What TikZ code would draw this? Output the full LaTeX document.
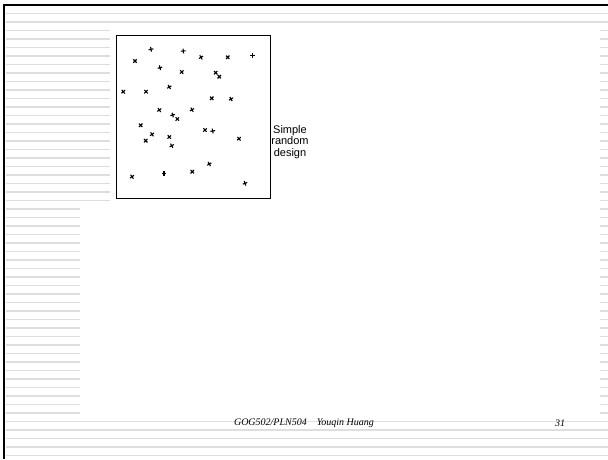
\documentclass[tikz,border=0pt]{standalone}
\usepackage{fontspec}
\setmainfont{Liberation Serif}
\newfontfamily\labelfont{Liberation Sans}
\usetikzlibrary{positioning}

\begin{document}
\begin{tikzpicture}[x=1pt, y=-1pt,
    rule/.style={line width=1.7pt, draw=black!13},
    pt/.style={line width=1.1pt},
    field/.style={draw, line width=1.3pt, inner sep=0pt, anchor=north west,
        minimum width=154pt, minimum height=162.5pt},
    caption/.style={font=\labelfont\fontsize{11}{11.5}\selectfont, align=center},
    foot/.style={font=\itshape\fontsize{10}{12}\selectfont}]
  \useasboundingbox[fill=white] (0,0) rectangle (608,459);
  % ruled background
  \foreach \k in {0,1,48,49,...,52}
    \draw[rule] (6,13.5+8.5*\k) -- (608,13.5+8.5*\k);
  \foreach \k in {2,...,22} {
    \draw[rule] (6,13.5+8.5*\k) -- (110,13.5+8.5*\k);
    \draw[rule] (600,13.5+8.5*\k) -- (608,13.5+8.5*\k);
  }
  \foreach \k in {23,...,47} {
    \draw[rule] (6,13.5+8.5*\k) -- (80,13.5+8.5*\k);
    \draw[rule] (600,13.5+8.5*\k) -- (608,13.5+8.5*\k);
  }
  % slide frame
  \draw[line width=2.6pt] (4,459) -- (4,5) -- (608,5);
  % sample area
  \node[field] (area) at (116,35) {};
  \foreach \px/\py/\a in {151/49.3/10, 183.3/51/5, 201/57.3/30, 227.7/57.3/45,
      252.3/55.7/0, 135/61/45, 160/67.7/15, 181.7/72/40, 215.7/72.7/45,
      219.3/76.7/45, 123.3/91.7/40, 146/91.7/45, 169.3/87/30, 211.7/98.3/45,
      231/99/30, 159.3/110/35, 192/109.7/30, 172.7/115/15, 177.3/119/45,
      140.7/125.3/45, 152/134.3/35, 145.7/140.7/45, 169.3/137/40,
      171.7/145.7/30, 205/130/40, 212.7/131/10, 239/138.7/40, 209.3/164/30,
      132/176.7/35, 164/173.3/0, 192.3/171.7/45, 245/183.3/20}
    \draw[pt, shift={(\px,\py)}, rotate=\a] (-2.4,0) -- (2.4,0) (0,-2.4) -- (0,2.4);
  \node[caption] (design) at (290,142) {Simple\\random\\design};
  % footer
  \node[foot] (course) at (304,423.5) {GOG502/PLN504\quad Youqin Huang};
  \node[foot] (page) at (560,423.5) {31};
\end{tikzpicture}
\end{document}
